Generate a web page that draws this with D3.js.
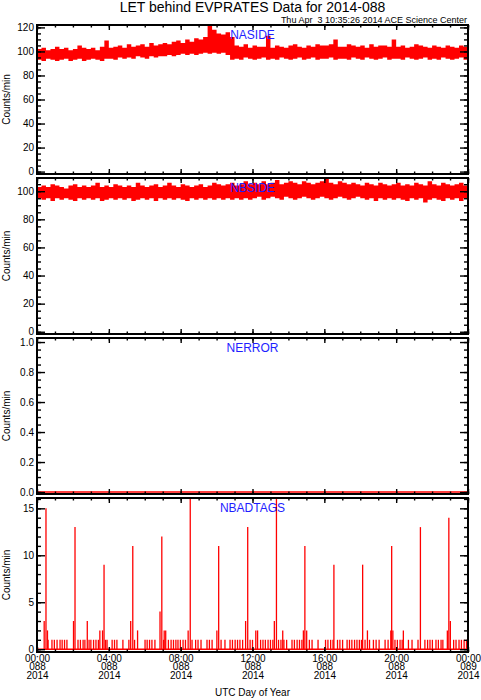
<!DOCTYPE html>
<html>
<head>
<meta charset="utf-8">
<script src="https://cdn.jsdelivr.net/npm/d3@7"></script>
<style>
  body { margin: 0; background: #fff; }
  svg { display: block; font-family: "Liberation Sans", Arial, Helvetica, sans-serif; }
</style>
</head>
<body>
<svg id="chart"></svg>
<script>
// time axis labels (minutes of day 0..1440)
const hourLabels = ["00:00", "04:00", "08:00", "12:00", "16:00", "20:00", "00:00"];
const dayLabels = ["088", "088", "088", "088", "088", "088", "089"];
const yearLabels = ["2014", "2014", "2014", "2014", "2014", "2014", "2014"];

// NASIDE / NBSIDE counts, read as min/max per 15 minute bin
const binMinutes = 15;
const nasideMax = [102,103,101,102,104,102,103,101,102,105,103,102,103,101,104,109,
  103,104,105,103,106,104,105,106,104,107,105,106,
  107,106,108,109,107,110,108,111,110,112,
  122,118,115,114,116,112,
  105,104,106,103,105,104,104,113,
  103,105,104,103,105,106,104,103,105,104,106,105,
  105,106,110,104,
  104,106,105,104,105,103,106,104,105,105,104,110,
  104,105,103,104,106,105,104,103,105,104,103,105,104,103,105,104];
const nasideMin = [93,92,94,93,92,93,94,92,93,94,92,93,94,93,92,94,
  94,93,95,94,95,94,96,95,94,96,95,96,
  96,97,96,97,98,97,98,97,98,99,
  98,99,98,99,97,93,
  94,93,95,94,93,94,95,93,
  94,93,95,94,93,94,95,93,94,95,93,94,
  94,95,93,94,
  94,93,95,94,93,95,94,93,94,95,93,94,
  94,93,95,94,93,94,95,93,94,93,95,94,93,94,95,93];
const nbsideMax = [103,104,103,105,104,103,102,104,105,103,104,103,104,106,103,104,103,105,104,103,104,103,106,104,
  103,104,105,103,104,106,104,103,105,104,103,104,105,103,104,106,105,104,105,106,104,105,107,105,
  106,105,107,105,106,108,105,106,107,106,105,107,106,105,106,107,110,106,105,107,106,105,106,105,
  104,106,105,104,106,105,104,105,106,104,105,104,106,105,104,107,105,104,106,105,104,105,106,104];
const nbsideMin = [95,94,95,93,95,94,95,94,93,95,94,95,94,95,93,94,95,94,95,94,95,93,94,95,
  94,95,93,95,94,95,94,95,94,93,95,94,95,94,95,94,95,94,95,94,95,94,95,94,
  95,96,94,95,96,95,94,96,95,94,95,96,95,94,95,96,95,94,95,96,95,94,95,96,
  95,94,95,93,95,94,95,94,95,94,93,95,94,95,92,94,95,94,93,95,94,95,93,95];

// NERROR: zero all day
const errorMinutes = [0, 1440];
const errorCounts = [0, 0];

// NBADTAGS: minutes with a count of 1, and the larger events
const tagOneMinutes = [37,50,58,67,77,84,92,100,137,145,154,160,174,180,189,197,205,229,234,
  251,259,267,287,307,326,361,368,376,384,394,423,439,448,456,464,471,479,488,496,
  518,530,538,548,568,576,585,615,628,645,653,662,670,678,687,712,720,747,755,763,
  772,780,788,807,815,825,834,852,860,869,877,885,910,919,939,964,972,981,989,
  1004,1012,1021,1036,1044,1052,1061,1069,1077,1084,1096,1111,1124,1133,1143,1163,
  1173,1196,1204,1213,1220,1241,1253,1273,1296,1305,1313,1321,1333,1341,1350,1356,
  1392,1400,1410,1418,1427,1435];
const tagSpikeMinutes = [24,30,35,122,127,168,210,219,224,313,320,336,411,417,425,430,
  505,512,601,607,697,704,731,737,793,800,821,890,895,901,992,1088,1104,1182,1185,
  1189,1224,1281,1371,1376,1381];
const tagSpikeCounts = [3,15,2,3,13,3,2,2,9,3,11,2,4,12,2,2,
  2,17,2,11,3,13,2,2,3,17,2,2,11,2,9,9,2,2,11,
  2,2,13,2,14,3];

const width = 481, height = 700;
const left = 37, right = 468;

const panels = [
  { name: "NASIDE", top: 25, bottom: 174, domain: [-2, 122], major: 20, minor: 5, fmt: d3.format("d") },
  { name: "NBSIDE", top: 178, bottom: 334, domain: [-1.6, 109.4], major: 20, minor: 5, fmt: d3.format("d") },
  { name: "NERROR", top: 338, bottom: 494, domain: [-0.013, 1.027], major: 0.2, minor: 0.05, fmt: d3.format(".1f") },
  { name: "NBADTAGS", top: 498, bottom: 652, domain: [-0.3, 16.1], major: 5, minor: 1, fmt: d3.format("d") }
];

const svg = d3.select("#chart").attr("width", width).attr("height", height);

const x = d3.scaleLinear().domain([0, 1440]).range([left, right]);
const majorX = d3.range(0, 1441, 240);
const minorX = d3.range(0, 1441, 60);

function steps(max, step) {
  const n = Math.floor(max / step + 1e-6);
  return d3.range(0, n + 1).map(i => +(i * step).toFixed(3));
}

function bins(hi, lo) {
  const pts = hi.map((v, i) => ({ t: i * binMinutes, hi: v, lo: lo[i] }));
  pts.push({ t: hi.length * binMinutes, hi: hi[hi.length - 1], lo: lo[lo.length - 1] });
  return pts;
}

// title
svg.append("text")
  .attr("x", (left + right) / 2)
  .attr("y", 12)
  .attr("text-anchor", "middle")
  .style("font-size", "14px")
  .text("LET behind EVPRATES Data for 2014-088");

svg.append("text")
  .attr("x", right - 1)
  .attr("y", 22.5)
  .attr("text-anchor", "end")
  .style("font-size", "9px")
  .style("white-space", "pre")
  .text("Thu Apr  3 10:35:26 2014 ACE Science Center");

panels.forEach((p, k) => {
  const y = d3.scaleLinear().domain(p.domain).range([p.bottom, p.top]);
  const g = svg.append("g");

  g.append("clipPath").attr("id", "clip" + k)
    .append("rect")
    .attr("x", left).attr("y", p.top)
    .attr("width", right - left).attr("height", p.bottom - p.top);

  const plot = g.append("g").attr("clip-path", `url(#clip${k})`);

  if (k === 0 || k === 1) {
    const data = k === 0 ? bins(nasideMax, nasideMin) : bins(nbsideMax, nbsideMin);
    plot.append("path")
      .datum(data)
      .attr("fill", "#ff0000")
      .attr("d", d3.area()
        .curve(d3.curveStepAfter)
        .x(d => x(d.t))
        .y0(d => y(d.lo))
        .y1(d => y(d.hi)));
  } else if (k === 2) {
    plot.append("path")
      .datum(errorMinutes.map((t, i) => [t, errorCounts[i]]))
      .attr("fill", "none")
      .attr("stroke", "#ff0000")
      .attr("stroke-width", 1.6)
      .attr("d", d3.line().x(d => x(d[0])).y(d => y(d[1])));
  } else {
    plot.append("line")
      .attr("x1", x(0)).attr("x2", x(1440))
      .attr("y1", y(0)).attr("y2", y(0))
      .attr("stroke", "#ff0000")
      .attr("stroke-width", 1.6);

    const events = tagOneMinutes.map(t => [t, 1])
      .concat(tagSpikeMinutes.map((t, i) => [t, tagSpikeCounts[i]]));

    plot.selectAll(".tag")
      .data(events)
      .enter()
      .append("line")
      .attr("class", "tag")
      .attr("x1", d => x(d[0])).attr("x2", d => x(d[0]))
      .attr("y1", y(0)).attr("y2", d => y(d[1]))
      .attr("stroke", "#ff0000")
      .attr("stroke-width", 1.3);
  }

  // y ticks, pointing inward on both sides
  const major = steps(p.domain[1], p.major);
  const minor = steps(p.domain[1], p.minor);

  g.append("g")
    .attr("transform", `translate(${left},0)`)
    .call(d3.axisLeft(y).tickValues(minor).tickSize(-4).tickFormat(""));
  g.append("g")
    .attr("transform", `translate(${left},0)`)
    .call(d3.axisLeft(y).tickValues(major).tickSize(-8).tickPadding(3).tickFormat(p.fmt));
  g.append("g")
    .attr("transform", `translate(${right},0)`)
    .call(d3.axisRight(y).tickValues(minor).tickSize(-4).tickFormat(""));
  g.append("g")
    .attr("transform", `translate(${right},0)`)
    .call(d3.axisRight(y).tickValues(major).tickSize(-8).tickFormat(""));

  // x ticks on top and bottom
  g.append("g")
    .attr("transform", `translate(0,${p.top})`)
    .call(d3.axisTop(x).tickValues(minorX).tickSize(-2.5).tickFormat(""));
  g.append("g")
    .attr("transform", `translate(0,${p.top})`)
    .call(d3.axisTop(x).tickValues(majorX).tickSize(-5).tickFormat(""));
  g.append("g")
    .attr("transform", `translate(0,${p.bottom})`)
    .call(d3.axisBottom(x).tickValues(minorX).tickSize(-2.5).tickFormat(""));
  const bottomAxis = g.append("g")
    .attr("transform", `translate(0,${p.bottom})`)
    .call(d3.axisBottom(x).tickValues(majorX).tickSize(-5).tickFormat(""));

  if (k === panels.length - 1) {
    // three stacked label rows under each major tick
    [hourLabels, dayLabels, yearLabels].forEach((row, r) => {
      bottomAxis.selectAll(".tick")
        .append("text")
        .attr("class", "xlab")
        .attr("fill", "#000")
        .attr("text-anchor", "middle")
        .attr("y", 9.6 + r * 8.6)
        .style("font-size", "10px")
        .text((d, i) => row[i]);
    });
  }

  // frame
  g.append("rect")
    .attr("x", left).attr("y", p.top)
    .attr("width", right - left).attr("height", p.bottom - p.top)
    .attr("fill", "none")
    .attr("stroke", "#000")
    .attr("stroke-width", 2);

  // series name
  g.append("text")
    .attr("x", (left + right) / 2)
    .attr("y", p.top + 14)
    .attr("text-anchor", "middle")
    .attr("fill", "#1e1eff")
    .style("font-size", "12px")
    .text(p.name);

  // y label
  g.append("text")
    .attr("transform", `translate(10,${(p.top + p.bottom) / 2}) rotate(-90)`)
    .attr("text-anchor", "middle")
    .style("font-size", "10px")
    .text("Counts/min");
});

svg.selectAll(".domain").remove();
svg.selectAll(".tick line").attr("stroke", "#000").attr("stroke-width", 1.4);
svg.selectAll(".tick text").style("font-family", "\"Liberation Sans\", Arial, sans-serif");
svg.selectAll(".tick text:not(.xlab)").style("font-size", "10px");

svg.append("text")
  .attr("x", (left + right) / 2)
  .attr("y", 695.5)
  .attr("text-anchor", "middle")
  .style("font-size", "10px")
  .text("UTC Day of Year");
</script>
</body>
</html>
